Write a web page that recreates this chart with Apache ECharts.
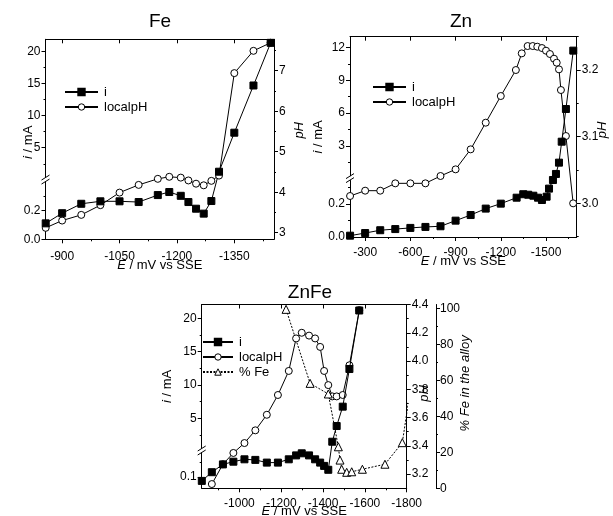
<!DOCTYPE html>
<html><head><meta charset="utf-8">
<script src="https://cdn.jsdelivr.net/npm/echarts@6/dist/echarts.min.js"></script>
<style>html,body{margin:0;padding:0;background:#fff}#c{width:613px;height:516px}</style>
</head><body><div id="c"></div>
<script>
// ---------------- DATA ----------------
// Fe panel
const feE   = [-857,-900,-950,-1000,-1050,-1100,-1150,-1180,-1210,-1230,-1250,-1270,-1290,-1310,-1350,-1400,-1445];
const feI   = [0.11,0.18,0.245,0.262,0.262,0.257,0.305,0.326,0.30,0.257,0.211,0.177,0.264,1.26,7.34,14.7,21.35];
const fePH  = [3.12,3.30,3.44,3.68,3.99,4.18,4.33,4.38,4.36,4.29,4.21,4.17,4.28,4.41,6.94,7.49,7.69];
// Zn panel
const znE_i = [-200,-300,-400,-500,-600,-700,-800,-900,-1000,-1100,-1200,-1305,-1349,-1382,-1416,-1447,-1473,-1504,-1520,-1546,-1566,-1586,-1604,-1632,-1681];
const znI   = [0.008,0.024,0.041,0.048,0.055,0.061,0.065,0.099,0.133,0.172,0.202,0.238,0.259,0.256,0.25,0.238,0.224,0.244,0.293,0.345,0.46,1.49,3.40,6.38,11.7];
const znE_p = [-200,-300,-400,-500,-600,-700,-800,-900,-1000,-1100,-1200,-1300,-1339,-1378,-1412,-1442,-1473,-1500,-1526,-1553,-1571,-1586,-1599,-1632,-1680];
const znPH  = [3.011,3.019,3.019,3.03,3.03,3.03,3.041,3.051,3.081,3.121,3.161,3.20,3.225,3.236,3.236,3.235,3.233,3.229,3.224,3.217,3.211,3.201,3.17,3.101,3.0];
// ZnFe panel
const zfE_i = [-820,-868,-921,-971,-1024,-1076,-1131,-1184,-1236,-1271,-1298,-1333,-1362,-1386,-1405,-1425,-1444,-1465,-1494,-1526,-1573];
const zfI   = [0.087,0.116,0.142,0.151,0.159,0.157,0.148,0.148,0.159,0.172,0.179,0.172,0.159,0.148,0.137,0.124,1.47,3.83,6.74,12.4,21.2];
const zfE_p = [-868,-921,-971,-1024,-1076,-1131,-1184,-1236,-1271,-1298,-1333,-1362,-1386,-1405,-1425,-1444,-1465,-1494,-1526,-1573];
const zfPH  = [3.13,3.27,3.35,3.42,3.51,3.62,3.76,3.93,4.16,4.20,4.18,4.16,4.10,3.93,3.83,3.75,3.75,3.76,3.97,4.36];
const zfE_f = [-1223,-1338,-1425,-1473,-1481,-1489,-1513,-1537,-1588,-1696,-1779,-1850];
const zfFe  = [99.6,58.4,52.5,23.1,15.7,10.6,8.9,9.2,10.6,13.4,25.4,80];

// tick values
const feXMaj = [-900,-1050,-1200,-1350], feXMin = [-975,-1125,-1275,-1425];
const feUpMaj = [5,10,15,20], feUpMin = [2.5,7.5,12.5,17.5];
const feLoMaj = [0,0.2], feLoMin = [0.1,0.3];
const fePhMaj = [3,4,5,6,7], fePhMin = [3.5,4.5,5.5,6.5,7.5];
const znXMaj = [-300,-600,-900,-1200,-1500], znXMin = [-450,-750,-1050,-1350,-1650];
const znUpMaj = [3,6,9,12], znUpMin = [1.5,4.5,7.5,10.5];
const znLoMaj = [0,0.2], znLoMin = [0.1,0.3];
const znPhMaj = [3.0,3.1,3.2], znPhMin = [2.95,3.05,3.15,3.25];
const zfXMaj = [-1000,-1200,-1400,-1600,-1800], zfXMin = [-900,-1100,-1300,-1500,-1700];
const zfUpMaj = [5,10,15,20], zfUpMin = [2.5,7.5,12.5,17.5];
const zfLoMaj = [0.1], zfLoMin = [0.15];
const zfPhMaj = [3.2,3.4,3.6,3.8,4.0,4.2,4.4], zfPhMin = [3.3,3.5,3.7,3.9,4.1,4.3];
const zfFeMaj = [0,20,40,60,80,100], zfFeMin = [10,30,50,70,90];

// ---------------- CHART ----------------
const FONT = '"Liberation Sans", Arial, sans-serif';
const chart = echarts.init(document.getElementById('c'));
const option = {
  animation: false, backgroundColor: '#fff',
  textStyle: {fontFamily: FONT, color: '#000'},
  title: [], legend: [], grid: [], xAxis: [], yAxis: [], series: []
};
const crossings = [], breaks = [];

function addGrid(x0, x1, y0, y1) {
  option.grid.push({left: x0, top: y0, width: x1 - x0, height: y1 - y0, show: false, containLabel: false, outerBoundsMode: 'none'});
  return option.grid.length - 1;
}
function axis(o) {
  const a = {
    type: 'value', scale: true, nameMoveOverlap: false,
    axisLine: {show: true, onZero: false, lineStyle: {color: '#000', width: 1}},
    axisTick: {show: false}, axisLabel: {show: false},
    splitLine: {show: false}, minorTick: {show: false}, minorSplitLine: {show: false}
  };
  for (const k in o) a[k] = o[k];
  return a;
}
function ticks(values, len, inside) {
  return {show: true, customValues: values, length: len, inside: !!inside, lineStyle: {color: '#000', width: 1}};
}
function labels(values, fmt, margin) {
  return {show: true, customValues: values, formatter: fmt, margin: margin, color: '#000', fontSize: 12, fontFamily: FONT};
}
const noLine = {show: false, onZero: false};
function addX(o) { option.xAxis.push(axis(o)); return option.xAxis.length - 1; }
function addY(o) { option.yAxis.push(axis(o)); return option.yAxis.length - 1; }
const pairs = (xs, ys) => xs.map((x, i) => [x, ys[i]]);
function nameStyle(pad) {
  return {fontSize: 13, color: '#000', fontFamily: FONT, padding: pad || 0,
    rich: {it: {fontStyle: 'italic', fontSize: 13, fontFamily: FONT}}};
}

function series(name, data, xi, yi, kind, dotted) {
  const sym = {sq: 'rect', ci: 'circle', tr: 'triangle'}[kind];
  return {
    type: 'line', name: name, data: data, xAxisIndex: xi, yAxisIndex: yi,
    symbol: sym, symbolSize: kind === 'tr' ? 8 : 7, showSymbol: true, showAllSymbol: true,
    lineStyle: {color: '#000', width: 1, type: dotted ? [2, 1.5] : 'solid'},
    itemStyle: {color: kind === 'sq' ? '#000' : '#fff', borderColor: '#000', borderWidth: 1},
    emphasis: {disabled: true}, z: kind === 'sq' ? 3 : 2
  };
}

function fmt1(v) { return v.toFixed(1); }
function fmt0(v) { return String(Math.round(v)); }

function panel(P) {
  const gF = addGrid(P.x0, P.x1, P.y0, P.y1);
  const gU = addGrid(P.x0, P.x1, P.y0, P.yU);
  const gL = addGrid(P.x0, P.x1, P.yL, P.y1);
  const xr = {min: P.xr[0], max: P.xr[1], inverse: true};
  const xF = addX(Object.assign({gridIndex: gF, position: 'bottom', axisTick: ticks(P.xMaj, 4),
    axisLabel: labels(P.xMaj, fmt0, P.xLabMargin), name: '{it|E} / mV vs SSE', nameLocation: 'middle', nameGap: P.xNameGap,
    nameTextStyle: nameStyle()}, xr));
  addX(Object.assign({gridIndex: gF, position: 'bottom', axisLine: noLine, axisTick: ticks(P.xMin, 2)}, xr));
  addX(Object.assign({gridIndex: gF, position: 'top', axisTick: ticks(P.xMaj, 4, true)}, xr));
  const xU = addX(Object.assign({gridIndex: gU, show: false}, xr));
  const xL = addX(Object.assign({gridIndex: gL, show: false}, xr));
  // left broken axis
  const yU = addY({gridIndex: gU, position: 'left', min: 0, max: P.upMax, axisTick: ticks(P.upMaj, 4), axisLabel: labels(P.upMaj, fmt0, 5)});
  addY({gridIndex: gU, position: 'left', min: 0, max: P.upMax, axisLine: noLine, axisTick: ticks(P.upMin, 2)});
  const yL = addY({gridIndex: gL, position: 'left', min: P.loR[0], max: P.loR[1], axisTick: ticks(P.loMaj, 4), axisLabel: labels(P.loMaj, fmt1, 5)});
  addY({gridIndex: gL, position: 'left', min: P.loR[0], max: P.loR[1], axisLine: noLine, axisTick: ticks(P.loMin, 2)});
  addY({gridIndex: gF, position: 'left', min: 0, max: 1, axisLine: noLine, name: '{it|i} / mA', nameLocation: 'middle',
    nameGap: P.iNameGap, nameTextStyle: nameStyle(P.iPad)});
  // pH axis
  const yP = addY({gridIndex: gF, position: 'right', min: P.phR[0], max: P.phR[1], axisTick: ticks(P.phMaj, 4),
    axisLabel: labels(P.phMaj, P.phFmt, 5), name: '{it|pH}', nameLocation: 'middle', nameGap: P.phNameGap, nameTextStyle: nameStyle(P.phPad)});
  addY({gridIndex: gF, position: 'right', min: P.phR[0], max: P.phR[1], axisLine: noLine, axisTick: ticks(P.phMin, 2)});
  // split current series at the break
  const pts = pairs(P.iE, P.iV);
  let k = pts.findIndex(p => p[1] > P.loR[1]);
  if (k < 0) k = pts.length;
  option.series.push(series('i', pts.slice(0, k), xL, yL, 'sq'));
  option.series.push(series('i', pts.slice(k), xU, yU, 'sq'));
  if (k > 0 && k < pts.length) crossings.push({a: pts[k - 1], b: pts[k], xL: xL, yL: yL, xU: xU, yU: yU});
  option.series.push(series('localpH', pairs(P.pE, P.pV), xF, yP, 'ci'));
  breaks.push({xU: xU, yU: yU, xL: xL, yL: yL, xv: P.xr[1], upMin: 0, loMax: P.loR[1]});
  return {gF, xF};
}

// Fe
panel({x0: 45.5, x1: 274, y0: 39.3, y1: 239.3, yU: 179.8, yL: 181.3, xr: [-1453.7, -856.5],
  xMaj: feXMaj, xMin: feXMin, upMax: 21.9, upMaj: feUpMaj, upMin: feUpMin, loR: [0, 0.4], loMaj: feLoMaj, loMin: feLoMin,
  phR: [2.837, 7.775], phMaj: fePhMaj, phMin: fePhMin, phFmt: fmt0,
  iE: feE, iV: feI, pE: feE, pV: fePH, xLabMargin: 11, xNameGap: 20, iNameGap: 11, phNameGap: 19,
  iPad: [0, 6, 0, 0], phPad: [0, 0, 0, 18]});
// Zn
panel({x0: 350, x1: 576.7, y0: 36.7, y1: 237, yU: 179, yL: 179.2, xr: [-1703.6, -199.5],
  xMaj: znXMaj, xMin: znXMin, upMax: 12.97, upMaj: znUpMaj, upMin: znUpMin, loR: [0, 0.35], loMaj: znLoMaj, loMin: znLoMin,
  phR: [2.9495, 3.2500], phMaj: znPhMaj, phMin: znPhMin, phFmt: fmt1,
  iE: znE_i, iV: znI, pE: znE_p, pV: znPH, xLabMargin: 10, xNameGap: 18, iNameGap: 25, phNameGap: 19,
  iPad: 0, phPad: [0, 0, 0, 14]});
// ZnFe
const zf = panel({x0: 201.7, x1: 406.7, y0: 304.5, y1: 488.3, yU: 451.5, yL: 451.5, xr: [-1800, -819.5],
  xMaj: zfXMaj, xMin: zfXMin, upMax: 22.1, upMaj: zfUpMaj, upMin: zfUpMin, loR: [0.0623, 0.185], loMaj: zfLoMaj, loMin: zfLoMin,
  phR: [3.1, 4.4], phMaj: zfPhMaj, phMin: zfPhMin, phFmt: fmt1,
  iE: zfE_i, iV: zfI, pE: zfE_p, pV: zfPH, xLabMargin: 9, xNameGap: 17, iNameGap: 28, phNameGap: 11,
  iPad: [0, 0, 0, 20], phPad: [0, 0, 0, 6]});
const yFe = addY({gridIndex: zf.gF, position: 'right', offset: 29.3, min: 0, max: 102.3, axisTick: ticks(zfFeMaj, 4),
  axisLabel: labels(zfFeMaj, fmt0, 4), name: '% Fe in the alloy', nameLocation: 'middle', nameGap: 23,
  nameTextStyle: {fontSize: 13, fontStyle: 'italic', color: '#000', fontFamily: FONT, padding: [0, 0, 0, 26]}});
addY({gridIndex: zf.gF, position: 'right', offset: 29.3, min: 0, max: 102.3, axisLine: noLine, axisTick: ticks(zfFeMin, 2)});
option.series.push(series('% Fe', pairs(zfE_f, zfFe), zf.xF, yFe, 'tr', true));

// titles
const tStyle = {fontSize: 19, fontWeight: 'normal', color: '#000', fontFamily: FONT};
option.title = [
  {text: 'Fe', left: 160, top: 12, textAlign: 'center', padding: 0, textStyle: tStyle},
  {text: 'Zn', left: 461, top: 12, textAlign: 'center', padding: 0, textStyle: tStyle},
  {text: 'ZnFe', left: 310, top: 283, textAlign: 'center', padding: 0, textStyle: tStyle}
];
// legends
const hollow = {color: '#fff', borderColor: '#000', borderWidth: 1};
function leg(left, top, w, names) {
  return {left: left, top: top, orient: 'vertical', itemWidth: w, itemHeight: 8, itemGap: 1, padding: 0,
    data: names.map(n => n === 'i' ? {name: n} : {name: n, itemStyle: hollow}), selectedMode: false,
    textStyle: {fontSize: 13, lineHeight: 14, color: '#000', fontFamily: FONT, padding: [0, 0, 0, 1]}};
}
option.legend = [leg(64, 85, 33, ['i', 'localpH']), leg(372, 80, 33, ['i', 'localpH']), leg(202, 335, 30, ['i', 'localpH', '% Fe'])];

chart.setOption(option);

// connecting segments across the axis break and the break marks
const gfx = [];
crossings.forEach(c => {
  const p1 = chart.convertToPixel({xAxisIndex: c.xL, yAxisIndex: c.yL}, c.a);
  const p2 = chart.convertToPixel({xAxisIndex: c.xU, yAxisIndex: c.yU}, c.b);
  gfx.push({type: 'line', shape: {x1: p1[0], y1: p1[1], x2: p2[0], y2: p2[1]}, style: {stroke: '#000', lineWidth: 1}, z: 1});
});
breaks.forEach(b => {
  const pu = chart.convertToPixel({xAxisIndex: b.xU, yAxisIndex: b.yU}, [b.xv, b.upMin]);
  const pl = chart.convertToPixel({xAxisIndex: b.xL, yAxisIndex: b.yL}, [b.xv, b.loMax]);
  const x = pu[0], y = (pu[1] + pl[1]) / 2 - 1;
  gfx.push({type: 'rect', shape: {x: x - 1.5, y: y - 2, width: 3, height: 4}, style: {fill: '#fff'}, z: 5});
  [-2, 2].forEach(d => gfx.push({type: 'line', shape: {x1: x - 4, y1: y + d + 2.5, x2: x + 4, y2: y + d - 2.5},
    style: {stroke: '#000', lineWidth: 1}, z: 6}));
});
chart.setOption({graphic: gfx});
</script></body></html>
